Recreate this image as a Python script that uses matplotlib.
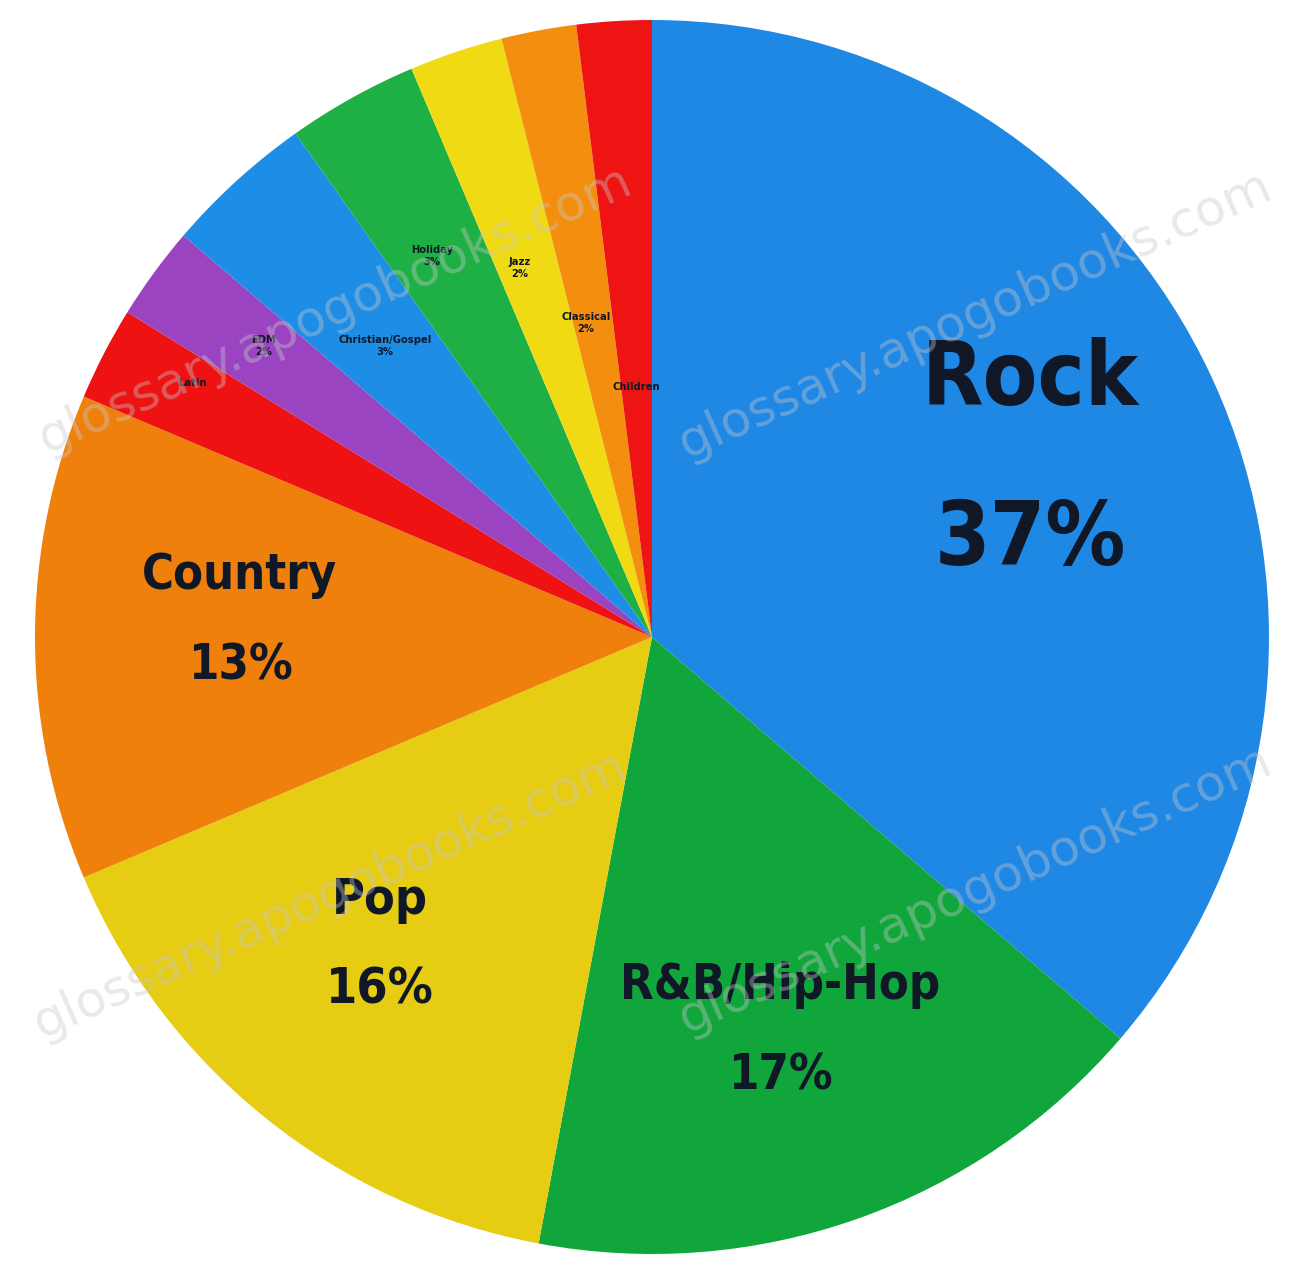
import matplotlib
matplotlib.use("Agg")
import matplotlib.pyplot as plt

# Genre share (%), clockwise from 12 o'clock
genres = ["Rock", "R&B/Hip-Hop", "Pop", "Country", "Latin", "EDM",
          "Christian/Gospel", "Holiday", "Jazz", "Classical", "Children"]
shares = [37, 17, 16, 13, 2.5, 2.5, 4, 3.5, 2.5, 2, 2]
share_labels = ["37%", "17%", "16%", "13%", "", "2%", "3%", "3%", "2%", "2%", ""]
colors = ["#1f87e4", "#10a63c", "#e6cc12", "#f0800c", "#ee1212", "#9a44c2",
          "#1e8de6", "#1eb044", "#f0da14", "#f48e0e", "#ee1414"]

W, H = 1296, 1281
fig = plt.figure(figsize=(W / 100, H / 100), dpi=100)
ax = fig.add_axes([0, 0, 1, 1])

ax.pie(shares, colors=colors, startangle=90, counterclock=False,
       center=(652, H - 637), radius=617, frame=True,
       wedgeprops=dict(linewidth=0))
ax.set_xlim(0, W)
ax.set_ylim(0, H)
ax.axis("off")

# label positions in image pixels (x, y from top)
big = {"Rock": (1030, 380, 1030, 540, 64),
       "R&B/Hip-Hop": (780, 985, 780, 1075, 35),
       "Pop": (380, 900, 380, 990, 36),
       "Country": (240, 575, 240, 665, 35)}
ink = "#101828"
for g, lab in zip(genres, share_labels):
    if g in big:
        x1, y1, x2, y2, fs = big[g]
        ax.text(x1, H - y1, g, ha="center", va="center", fontsize=fs,
                fontweight="bold", fontstretch="condensed", color=ink)
        ax.text(x2, H - y2, lab, ha="center", va="center", fontsize=fs,
                fontweight="bold", fontstretch="condensed", color=ink)

small = {"Latin": (192, 378), "EDM": (264, 335), "Christian/Gospel": (385, 335),
         "Holiday": (432, 245), "Jazz": (520, 257), "Classical": (586, 312),
         "Children": (636, 382)}
for g, lab in zip(genres, share_labels):
    if g in small:
        x, y = small[g]
        txt = g if not lab else g + "\n" + lab
        ax.text(x, H - y, txt, ha="center", va="top", fontsize=8,
                fontweight="bold", fontstretch="condensed", color=ink,
                linespacing=1.3)

# watermark
wm = "glossary.apogobooks.com"
for x, y in [(335, 310), (975, 315), (330, 895), (975, 890)]:
    ax.text(x, H - y, wm, ha="center", va="center", fontsize=36,
            color="#c8c8c8", alpha=0.4, rotation=24)

fig.savefig("out.png", dpi=100, facecolor="white")
